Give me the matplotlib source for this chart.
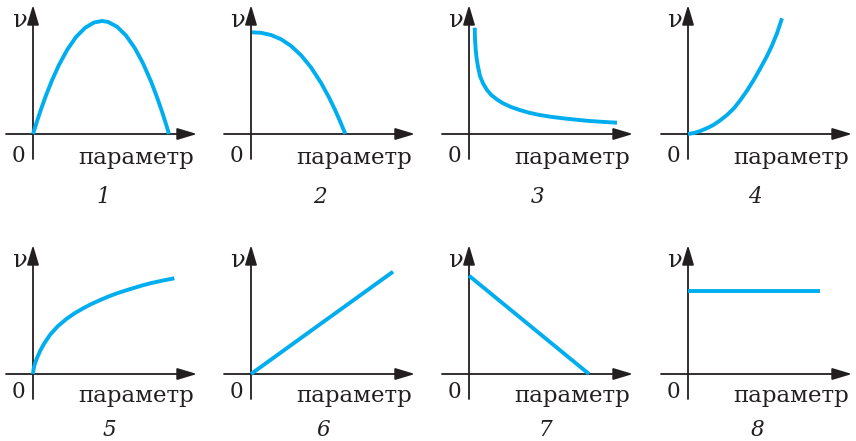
import matplotlib
matplotlib.use("Agg")
import matplotlib.pyplot as plt

# curves (parameter, v)
p1_x = [0, 0.4, 0.8, 1.3, 1.9, 2.6, 3.4, 4.3, 5.2, 6.1, 6.9, 7.5, 8.4, 9.3, 10.2, 11.0, 11.8, 12.4, 12.9, 13.3, 13.6]
p1_v = [0, 1.27, 2.47, 3.86, 5.37, 6.91, 8.39, 9.70, 10.61, 11.15, 11.3, 11.21, 10.73, 9.85, 8.56, 7.07, 5.26, 3.68, 2.24, 0.99, 0]

p2_x = [0.1, 1, 2, 3, 4, 5, 6, 7, 7.8, 8.4, 8.9, 9.2, 9.43]
p2_v = [10.17, 10.12, 9.9, 9.48, 8.81, 7.88, 6.66, 5.12, 3.66, 2.42, 1.29, 0.57, 0]

p3_x = [0.57, 0.6, 0.67, 0.77, 0.9, 1.1, 1.4, 1.8, 2.23, 2.8, 3.4, 4.2, 5.07, 6.0, 7.07, 8.2, 9.4, 10.7, 12.07, 13.4, 14.8]
p3_v = [10.63, 9.5, 8.4, 7.5, 6.73, 5.8, 5.07, 4.4, 3.9, 3.45, 3.07, 2.7, 2.4, 2.13, 1.9, 1.72, 1.57, 1.43, 1.3, 1.21, 1.13]

p4_x = [0, 0.6, 1.23, 1.9, 2.57, 3.2, 3.9, 4.6, 5.23, 5.9, 6.57, 7.2, 7.9, 8.4, 8.9, 9.4]
p4_v = [0, 0.1, 0.3, 0.58, 0.92, 1.35, 1.9, 2.58, 3.38, 4.33, 5.4, 6.5, 7.8, 8.85, 10.07, 11.57]

p5_x = [0, 0.06, 0.14, 0.23, 0.4, 0.73, 1.15, 1.73, 2.5, 3.4, 4.2, 5.07, 5.9, 6.73, 7.55, 8.4, 9.2, 10.07, 10.9, 11.73, 12.9, 14.13]
p5_v = [0, 0.5, 0.85, 1.15, 1.6, 2.35, 3.1, 3.95, 4.8, 5.55, 6.1, 6.6, 7.03, 7.4, 7.75, 8.07, 8.33, 8.6, 8.85, 9.07, 9.33, 9.57]

p6_x = [0, 14.2]
p6_v = [0, 10.23]

p7_x = [0, 12.0]
p7_v = [9.83, 0]

p8_x = [0, 13.17]
p8_v = [8.3, 8.3]

curves = [(p1_x, p1_v), (p2_x, p2_v), (p3_x, p3_v), (p4_x, p4_v),
          (p5_x, p5_v), (p6_x, p6_v), (p7_x, p7_v), (p8_x, p8_v)]
numbers = ['1', '2', '3', '4', '5', '6', '7', '8']

# layout (pixels, 1 data unit = 10 px)
W, H = 856, 441
origins_x = [33, 251, 469, 688]
origins_y = [134, 374]
num_dx = [7.0, 6.9, 6.9, 6.7, 7.6, 7.2, 7.6, 6.9]
num_y = [-6.9, -6.15]     # number baseline, per row
zero_y = [-2.8, -2.45]
word_y = [-3.0, -2.8]

ink = '#231f20'
blue = '#00aeef'
serif = 'DejaVu Serif'

fig = plt.figure(figsize=(W / 100, H / 100), dpi=100)

for i, (cx, cv) in enumerate(curves):
    row, col = divmod(i, 4)
    ox, oy = origins_x[col], origins_y[row]
    ax = fig.add_axes([(ox - 30) / W, (H - (oy + 30)) / H, 200 / W, 165 / H])
    ax.set_xlim(-3, 17)
    ax.set_ylim(-3, 13.5)
    ax.axis('off')

    arrow = dict(arrowstyle='-|>,head_length=0.6,head_width=0.18', color=ink,
                 lw=1.3, mutation_scale=20, shrinkA=0, shrinkB=0)
    ax.annotate('', xy=(16.4, 0), xytext=(-2.7, 0), arrowprops=arrow)
    ax.annotate('', xy=(0, 12.9), xytext=(0, -2.5), arrowprops=arrow)

    ax.plot(cx, cv, color=blue, lw=2.8, solid_capstyle='butt', clip_on=False, zorder=3)

    ax.text(-1.4, 10.7, 'ν', family=serif, fontsize=17.5, color=ink, ha='center', va='baseline')
    ax.text(-1.5, zero_y[row], '0', family=serif, fontsize=15.5, color=ink, ha='center', va='baseline')
    ax.text(10.3, word_y[row], 'параметр', family=serif, fontsize=16.5, color=ink, ha='center', va='baseline')
    ax.text(num_dx[i], num_y[row], numbers[i], family=serif, style='italic', fontsize=15.5,
            color=ink, ha='center', va='baseline')

fig.savefig('out.png', dpi=100)
